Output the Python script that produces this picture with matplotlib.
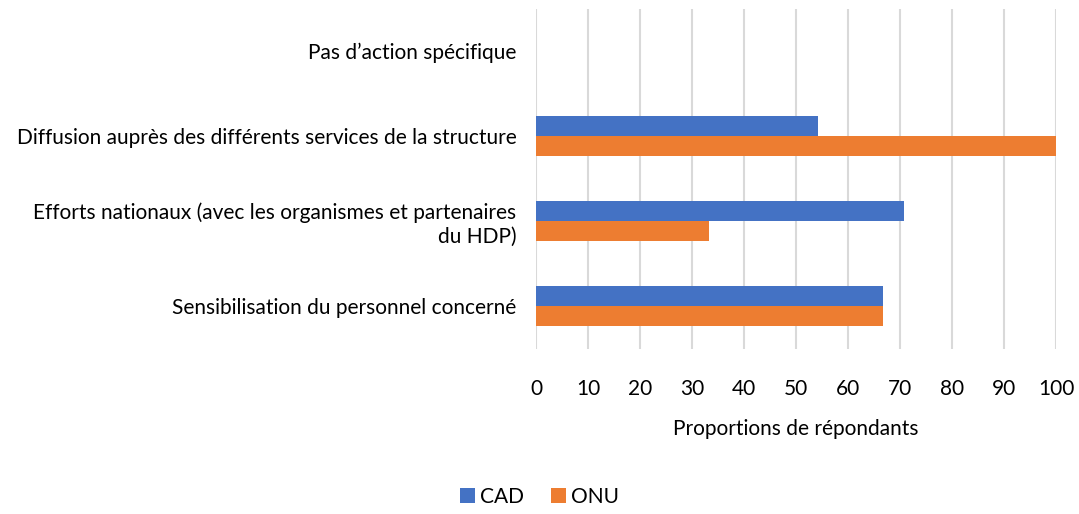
import numpy as np
import matplotlib.pyplot as plt

plt.rcParams['font.family'] = ['Lato', 'DejaVu Sans']

categories = ['Sensibilisation du personnel concerné',
              'Efforts nationaux (avec les organismes et partenaires\ndu HDP)',
              'Diffusion auprès des différents services de la structure',
              'Pas d\u2019action spécifique']
cad = [66.7, 70.8, 54.2, 0]
onu = [66.7, 33.3, 100, 0]
ticks = list(range(0, 101, 10))

fig = plt.figure(figsize=(10.79, 5.14), dpi=100)
ax = fig.add_axes([536 / 1079, 1 - 348.5 / 514, 520 / 1079, 340 / 514])

y = np.arange(len(categories))
h = 0.235
ax.barh(y + h / 2, cad, height=h, color='#4472c4', label='CAD', zorder=3)
ax.barh(y - h / 2, onu, height=h, color='#ed7d31', label='ONU', zorder=3)

ax.set_xlim(0, 100)
ax.set_ylim(-0.5, len(categories) - 0.5)
ax.set_xticks(ticks)
ax.set_yticks(y)
ax.set_yticklabels(categories, fontsize=15.2, ha='right', multialignment='right')
ax.tick_params(axis='both', length=0, labelsize=15, colors='#000000')
ax.tick_params(axis='x', pad=22)
ax.tick_params(axis='y', pad=14)
ax.grid(axis='x', color='#d9d9d9', linewidth=1.5, zorder=0)
for s in ax.spines.values():
    s.set_visible(False)
ax.set_xlabel('Proportions de répondants', fontsize=15, labelpad=14)

fig.legend(loc='center', bbox_to_anchor=(0.5, 1 - 497 / 514), ncol=2, frameon=False,
           fontsize=15, handlelength=0.7, handleheight=0.7, handletextpad=0.25,
           columnspacing=1.3)

fig.savefig('out.png', dpi=100)
